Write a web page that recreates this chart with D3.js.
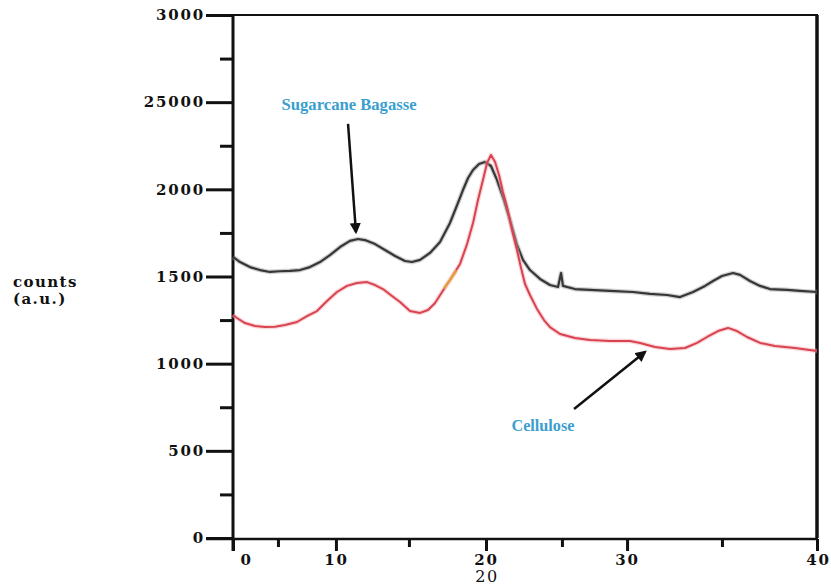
<!DOCTYPE html>
<html>
<head>
<meta charset="utf-8">
<script src="https://cdn.jsdelivr.net/npm/d3@7"></script>
<style>
  body { margin: 0; background: #fff; }
  svg { display: block; }
  .axis text { font-family: "DejaVu Serif", serif; font-weight: bold; font-size: 15px; fill: #111; letter-spacing: 1.8px; }
  .axis line { stroke: #111; stroke-width: 3px; }
  .axis path { display: none; }
</style>
</head>
<body>
<div id="chart"></div>
<script>
// XRD patterns, x in axis units (0-40), y in counts
var bagasseX = [0, 0.48, 1.16, 1.85, 2.53, 3.22, 3.90, 4.59, 5.27, 5.96, 6.64, 7.33, 8.01, 8.56, 9.04, 9.73, 10.41, 11.10, 11.78, 12.26, 12.81, 13.49, 14.18, 14.86, 15.41, 15.75, 16.10, 16.44, 16.85, 17.26, 17.67, 18.08, 18.56, 18.97, 19.45, 19.86, 20.34, 21.03, 21.71, 22.26, 22.47, 22.60, 23.42, 24.45, 25.82, 27.40, 28.56, 29.73, 30.62, 31.51, 32.33, 32.88, 33.49, 34.25, 34.73, 35.41, 36.10, 36.78, 37.95, 38.84, 40];
var bagasseY = [1612, 1583, 1554, 1537, 1526, 1530, 1532, 1537, 1554, 1583, 1623, 1669, 1704, 1715, 1709, 1686, 1652, 1618, 1589, 1583, 1595, 1635, 1698, 1807, 1922, 1996, 2065, 2111, 2145, 2157, 2134, 2054, 1939, 1824, 1681, 1595, 1537, 1486, 1451, 1440, 1520, 1446, 1428, 1423, 1417, 1411, 1400, 1394, 1382, 1411, 1446, 1474, 1503, 1520, 1509, 1474, 1446, 1428, 1423, 1417, 1411];

var celluloseX = [0, 0.27, 0.82, 1.51, 2.19, 2.88, 3.56, 4.38, 5.07, 5.75, 6.44, 7.12, 7.81, 8.49, 9.18, 9.73, 10.27, 10.89, 11.44, 12.12, 12.81, 13.36, 13.84, 14.32, 14.86, 15.55, 16.03, 16.44, 16.78, 17.12, 17.40, 17.67, 17.95, 18.22, 18.49, 18.77, 19.11, 19.45, 19.73, 20.00, 20.34, 20.82, 21.30, 21.71, 22.40, 23.42, 24.45, 25.82, 27.19, 27.88, 28.90, 29.93, 30.96, 31.78, 32.47, 33.22, 33.90, 34.52, 35.21, 36.10, 37.12, 38.49, 40];
var celluloseY = [1279, 1262, 1233, 1216, 1210, 1212, 1222, 1239, 1273, 1302, 1359, 1411, 1446, 1463, 1468, 1451, 1428, 1388, 1354, 1302, 1291, 1308, 1348, 1411, 1480, 1572, 1686, 1807, 1939, 2054, 2151, 2197, 2157, 2082, 1985, 1899, 1767, 1652, 1549, 1457, 1394, 1314, 1250, 1210, 1170, 1147, 1136, 1130, 1130, 1119, 1096, 1084, 1090, 1119, 1153, 1187, 1205, 1187, 1153, 1119, 1101, 1090, 1073];

// small orange stretch on the cellulose trace
var orangeX = [14.45, 14.86, 15.30];
var orangeY = [1432, 1480, 1535];

var yTicks = [0, 500, 1000, 1500, 2000, 2500, 3000];
var yTickLabels = ["0", "500", "1000", "1500", "2000", "25000", "3000"];
var yMinor = [250, 750, 1250, 1750, 2250, 2750];

var xTicks = [0, 7.05, 17.33, 26.99, 40];
var xTickLabels = ["0", "10", "20", "30", "40"];
var xMinor = [3.08, 12.05, 22.53, 33.49];

var W = 831, H = 585;
var plotL = 233, plotR = 817, plotT = 15, plotB = 538;

var x = d3.scaleLinear().domain([0, 40]).range([plotL, plotR]);
var y = d3.scaleLinear().domain([0, 3000]).range([plotB, plotT]);

var svg = d3.select("#chart").append("svg")
  .attr("width", W)
  .attr("height", H);

// frame
svg.append("line").attr("x1", plotL - 27).attr("x2", plotR + 1).attr("y1", plotT).attr("y2", plotT)
  .attr("stroke", "#111").attr("stroke-width", 2);
svg.append("line").attr("x1", plotR).attr("x2", plotR).attr("y1", plotT).attr("y2", plotB)
  .attr("stroke", "#111").attr("stroke-width", 3.5);
svg.append("line").attr("x1", plotL).attr("x2", plotL).attr("y1", plotT).attr("y2", plotB + 13)
  .attr("stroke", "#111").attr("stroke-width", 3);
svg.append("line").attr("x1", plotL - 27).attr("x2", plotR + 1).attr("y1", plotB + 1).attr("y2", plotB + 1)
  .attr("stroke", "#111").attr("stroke-width", 2.5);

// y axis
svg.append("g")
  .attr("class", "axis y")
  .attr("transform", "translate(" + plotL + ",0)")
  .call(d3.axisLeft(y).tickValues(yTicks).tickSize(27).tickPadding(1)
    .tickFormat(function (d, i) { return yTickLabels[i]; }));

svg.append("g")
  .attr("class", "axis y minor")
  .attr("transform", "translate(" + plotL + ",0)")
  .call(d3.axisLeft(y).tickValues(yMinor).tickSize(13).tickFormat(""));

// x axis
svg.append("g")
  .attr("class", "axis x")
  .attr("transform", "translate(0," + (plotB + 1) + ")")
  .call(d3.axisBottom(x).tickValues(xTicks).tickSize(12).tickPadding(3)
    .tickFormat(function (d, i) { return xTickLabels[i]; }));

svg.selectAll(".axis.x .tick text")
  .attr("dx", function (d, i) { return i === 0 ? 13 : (i === 4 ? 1 : 0); });

svg.append("g")
  .attr("class", "axis x minor")
  .attr("transform", "translate(0," + (plotB + 1) + ")")
  .call(d3.axisBottom(x).tickValues(xMinor).tickSize(8).tickFormat(""));

// axis titles
svg.append("text")
  .attr("x", 487).attr("y", 582)
  .attr("text-anchor", "middle")
  .style("font-family", "DejaVu Serif, serif")
  .style("font-size", "16px")
  .style("letter-spacing", "1.5px")
  .style("fill", "#111")
  .text("20");

var yTitle = svg.append("text")
  .style("font-family", "DejaVu Serif, serif")
  .style("font-weight", "bold")
  .style("font-size", "15px")
  .style("letter-spacing", "1.4px")
  .style("fill", "#111");
yTitle.append("tspan").attr("x", 13).attr("y", 287).text("counts");
yTitle.append("tspan").attr("x", 13).attr("y", 304).text("(a.u.)");

// traces
var line = d3.line()
  .x(function (d) { return x(d[0]); })
  .y(function (d) { return y(d[1]); });

function drawTrace(xs, ys, halo, col, w) {
  var pts = xs.map(function (v, i) { return [v, ys[i]]; });
  svg.append("path").datum(pts)
    .attr("d", line).attr("fill", "none")
    .attr("stroke", halo).attr("stroke-width", w + 2.5)
    .attr("stroke-linejoin", "round").attr("opacity", 0.45);
  svg.append("path").datum(pts)
    .attr("d", line).attr("fill", "none")
    .attr("stroke", col).attr("stroke-width", w)
    .attr("stroke-linejoin", "round");
}

drawTrace(bagasseX, bagasseY, "#9a9a9a", "#363636", 2.2);
drawTrace(celluloseX, celluloseY, "#f2a6ad", "#d9434f", 2);
drawTrace(orangeX, orangeY, "#f5cf90", "#e39a3c", 2);

// annotations
var defs = svg.append("defs");
defs.append("marker")
  .attr("id", "head")
  .attr("viewBox", "0 0 10 10")
  .attr("refX", 8).attr("refY", 5)
  .attr("markerWidth", 4.5).attr("markerHeight", 4.5)
  .attr("orient", "auto")
  .append("path").attr("d", "M0,0L10,5L0,10z").attr("fill", "#111");

var notes = [
  {label: "Sugarcane Bagasse", tx: 7.95, ty: 2455, len: 135, ax1: 7.88, ay1: 2375, ax2: 8.42, ay2: 1755},
  {label: "Cellulose", tx: 21.23, ty: 614, len: 63, ax1: 23.36, ay1: 740, ax2: 28.22, ay2: 1067}
];

notes.forEach(function (n) {
  svg.append("line")
    .attr("x1", x(n.ax1)).attr("y1", y(n.ay1))
    .attr("x2", x(n.ax2)).attr("y2", y(n.ay2))
    .attr("stroke", "#111").attr("stroke-width", 2.5)
    .attr("marker-end", "url(#head)");
  svg.append("text")
    .attr("x", x(n.tx)).attr("y", y(n.ty))
    .attr("text-anchor", "middle")
    .attr("textLength", n.len)
    .attr("lengthAdjust", "spacingAndGlyphs")
    .style("font-family", "Liberation Serif, serif")
    .style("font-weight", "bold")
    .style("font-size", "17px")
    .style("fill", "#3a9fcf")
    .text(n.label);
});
</script>
</body>
</html>
